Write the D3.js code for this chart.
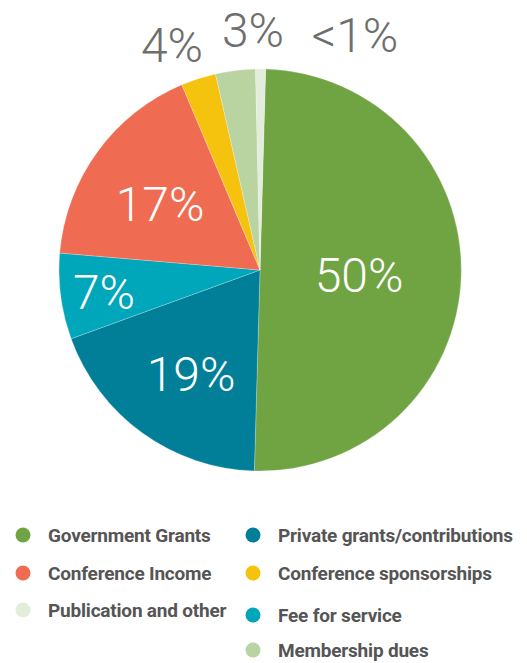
<!DOCTYPE html>
<html>
<head>
<meta charset="utf-8">
<script src="https://cdn.jsdelivr.net/npm/d3@7"></script>
<style>
  body { margin: 0; background: #fff; }
  svg { display: block; font-family: Roboto, "Open Sans", sans-serif; }
</style>
</head>
<body>
<div id="chart-area"></div>
<script>
// slices, clockwise from the top
var categories = ['Government Grants', 'Private grants/contributions', 'Fee for service',
  'Conference Income', 'Conference sponsorships', 'Membership dues', 'Publication and other'];
var shares = [50.0, 19.0, 6.9, 17.3, 2.8, 3.2, 0.8];
var labels = ['50%', '19%', '7%', '17%', '4%', '3%', '<1%'];
var colors = ['#70a342', '#017f99', '#00a6ba', '#ef6c52', '#f5c20d', '#b9d3a1', '#e3eddb'];

// legend reading order (two columns)
var legendCol1 = ['Government Grants', 'Conference Income', 'Publication and other'];
var legendCol2 = ['Private grants/contributions', 'Conference sponsorships', 'Fee for service', 'Membership dues'];

var width = 527, height = 663;
var cx = 260, cy = 270, radius = 201;

var svg = d3.select('#chart-area').append('svg')
  .attr('width', width)
  .attr('height', height);

var color = d3.scaleOrdinal().domain(categories).range(colors);

var data = categories.map((c, i) => ({ name: c, value: shares[i], label: labels[i] }));

var pie = d3.pie().sort(null).value(d => d.value)
  .startAngle(0.028).endAngle(0.028 + 2 * Math.PI);
var arc = d3.arc().innerRadius(0).outerRadius(radius);

var g = svg.append('g').attr('transform', `translate(${cx}, ${cy})`);
var arcs = pie(data);

g.selectAll('path').data(arcs).enter()
  .append('path')
    .attr('d', arc)
    .attr('fill', d => color(d.data.name))
    .attr('stroke', '#fff')
    .attr('stroke-width', 0.4)
    .attr('stroke-opacity', 0.6);

// label placement, relative to the pie centre
var labelPos = {
  'Government Grants': [99, 5],
  'Private grants/contributions': [-69, 104],
  'Fee for service': [-156, 22],
  'Conference Income': [-100, -66],
  'Conference sponsorships': [-88, -225],
  'Membership dues': [-7, -240],
  'Publication and other': [95, -235]
};
var outer = ['Conference sponsorships', 'Membership dues', 'Publication and other'];

g.selectAll('text.pct').data(arcs).enter()
  .append('text')
    .attr('class', 'pct')
    .attr('x', d => labelPos[d.data.name][0])
    .attr('y', d => labelPos[d.data.name][1])
    .attr('dy', '0.36em')
    .attr('text-anchor', 'middle')
    .attr('fill', d => outer.includes(d.data.name) ? '#6e6e6e' : '#fff')
    .attr('font-size', '48px')
    .attr('font-weight', 300)
    .text(d => d.data.label);

// legend
var legend = svg.append('g');
var rowY = [535, 573, 611, 650];

function legendColumn(items, x, offsets) {
  items.forEach((name, i) => {
    var row = legend.append('g')
      .attr('transform', `translate(${x}, ${rowY[i] + (offsets[i] || 0)})`);
    row.append('circle')
      .attr('r', 7.5)
      .attr('fill', color(name));
    row.append('text')
      .attr('x', 25)
      .attr('dy', '0.35em')
      .attr('fill', '#555')
      .attr('font-size', '19px')
      .attr('font-weight', 700)
      .attr('letter-spacing', '-0.2px')
      .text(name);
  });
}
legendColumn(legendCol1, 23, [0, 0, -1]);
legendColumn(legendCol2, 253, [0, 0, 4, 0]);
</script>
</body>
</html>
